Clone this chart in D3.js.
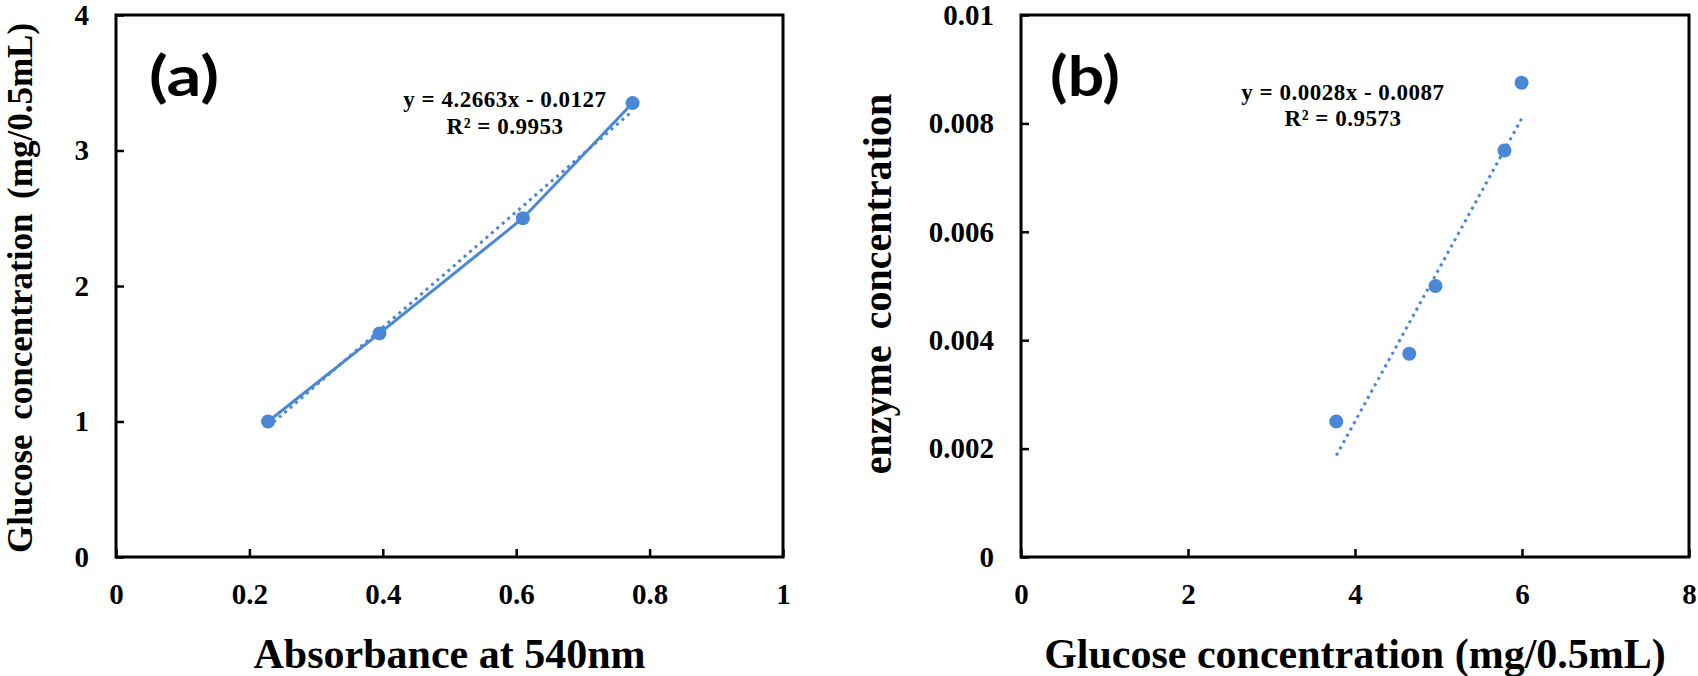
<!DOCTYPE html>
<html>
<head>
<meta charset="utf-8">
<script src="https://cdn.jsdelivr.net/npm/d3@7"></script>
<style>
  html, body { margin: 0; padding: 0; background: #fff; }
  svg { display: block; }
  .serif { font-family: "Liberation Serif", "Times New Roman", serif; font-weight: bold; fill: #000; }
</style>
</head>
<body>
<svg id="chart" width="1698" height="676"></svg>
<script>
// ---------- Panel (a) data ----------
const absorbance = [0.228, 0.395, 0.61, 0.7745];
const glucoseA = [1.0, 1.65, 2.5, 3.35];
const xTicksA = [0, 0.2, 0.4, 0.6, 0.8, 1];
const yTicksA = [0, 1, 2, 3, 4];
const xTickLabelsA = ["0", "0.2", "0.4", "0.6", "0.8", "1"];
const yTickLabelsA = ["0", "1", "2", "3", "4"];
const trendA = [4.2663, -0.0127];   // slope, intercept
const eqA = ["y = 4.2663x - 0.0127", "R\u00B2 = 0.9953"];

// ---------- Panel (b) data ----------
const glucoseB = [3.776, 4.65, 4.964, 5.79, 5.995];
const enzyme = [0.0025, 0.00375, 0.005, 0.0075, 0.00875];
const xTicksB = [0, 2, 4, 6, 8];
const yTicksB = [0, 0.002, 0.004, 0.006, 0.008, 0.01];
const xTickLabelsB = ["0", "2", "4", "6", "8"];
const yTickLabelsB = ["0", "0.002", "0.004", "0.006", "0.008", "0.01"];
const trendB = [0.0028, -0.0087];
const eqB = ["y = 0.0028x - 0.0087", "R\u00B2 = 0.9573"];

const BLUE = "#4a88d6";
const svg = d3.select("#chart");

function panel(cfg) {
  const g = svg.append("g");
  const x = d3.scaleLinear().domain(cfg.xDomain).range([cfg.left, cfg.right]);
  const y = d3.scaleLinear().domain(cfg.yDomain).range([cfg.bottom, cfg.top]);

  // axes with inward ticks
  const xAxis = d3.axisBottom(x).tickValues(cfg.xTicks)
    .tickFormat((d, i) => cfg.xLabels[i]).tickSizeInner(-8).tickSizeOuter(0).tickPadding(26);
  const yAxis = d3.axisLeft(y).tickValues(cfg.yTicks)
    .tickFormat((d, i) => cfg.yLabels[i]).tickSizeInner(-8).tickSizeOuter(0).tickPadding(27);

  const gx = g.append("g").attr("transform", `translate(0,${cfg.bottom})`).call(xAxis);
  const gy = g.append("g").attr("transform", `translate(${cfg.left},0)`).call(yAxis);
  [gx, gy].forEach(a => {
    a.select(".domain").remove();
    a.selectAll(".tick line").attr("stroke", "#000").attr("stroke-width", 2.5);
    a.selectAll(".tick text").attr("class", "serif").attr("font-size", 29).attr("fill", "#000");
  });

  // frame
  g.append("rect")
    .attr("x", cfg.left).attr("y", cfg.top)
    .attr("width", cfg.right - cfg.left).attr("height", cfg.bottom - cfg.top)
    .attr("fill", "none").attr("stroke", "#000").attr("stroke-width", 3);

  const pts = cfg.xs.map((v, i) => [v, cfg.ys[i]]);

  // trendline (dotted)
  const x0 = d3.min(cfg.xs), x1 = d3.max(cfg.xs);
  g.append("line")
    .attr("x1", x(x0)).attr("y1", y(cfg.trend[0] * x0 + cfg.trend[1]))
    .attr("x2", x(x1)).attr("y2", y(cfg.trend[0] * x1 + cfg.trend[1]))
    .attr("stroke", BLUE).attr("stroke-width", 3)
    .attr("stroke-dasharray", "3 4.2");

  if (cfg.connect) {
    g.append("path")
      .attr("d", d3.line().x(d => x(d[0])).y(d => y(d[1]))(pts))
      .attr("fill", "none").attr("stroke", BLUE).attr("stroke-width", 3);
  }

  g.selectAll("circle.pt").data(pts).enter().append("circle")
    .attr("class", "pt")
    .attr("cx", d => x(d[0])).attr("cy", d => y(d[1]))
    .attr("r", 7).attr("fill", BLUE);

  // equation
  cfg.eq.forEach((t, i) => {
    g.append("text").attr("class", "serif")
      .attr("x", cfg.eqPos[0]).attr("y", cfg.eqPos[1] + i * 26.5)
      .attr("text-anchor", "middle").attr("font-size", 23)
      .attr("letter-spacing", "0.5px")
      .text(t);
  });

  // panel tag
  g.append("text")
    .attr("x", cfg.tagPos[0]).attr("y", cfg.tagPos[1])
    .attr("font-family", "Lato, 'Open Sans', sans-serif").attr("font-weight", "bold")
    .attr("font-size", 56).attr("fill", "#000")
    .attr("textLength", 70).attr("lengthAdjust", "spacingAndGlyphs")
    .text(cfg.tag);

  // axis titles
  g.append("text").attr("class", "serif")
    .attr("x", (cfg.left + cfg.right) / 2).attr("y", 668)
    .attr("text-anchor", "middle").attr("font-size", 42)
    .text(cfg.xTitle);

  g.append("text").attr("class", "serif")
    .attr("transform", `translate(${cfg.yTitleX},${cfg.yTitleY}) rotate(-90)`)
    .attr("text-anchor", "middle").attr("font-size", cfg.yTitleSize)
    .attr("word-spacing", "6px")
    .text(cfg.yTitle);
}

panel({
  left: 116, right: 783, top: 15, bottom: 557,
  xDomain: [0, 1], yDomain: [0, 4],
  xTicks: xTicksA, yTicks: yTicksA, xLabels: xTickLabelsA, yLabels: yTickLabelsA,
  xs: absorbance, ys: glucoseA, trend: trendA, connect: true,
  eq: eqA, eqPos: [505, 107],
  tag: "(a)", tagPos: [149, 96],
  xTitle: "Absorbance at 540nm",
  yTitle: "Glucose concentration (mg/0.5mL)", yTitleX: 32, yTitleY: 288, yTitleSize: 35
});

panel({
  left: 1021, right: 1689, top: 15, bottom: 557,
  xDomain: [0, 8], yDomain: [0, 0.01],
  xTicks: xTicksB, yTicks: yTicksB, xLabels: xTickLabelsB, yLabels: yTickLabelsB,
  xs: glucoseB, ys: enzyme, trend: trendB, connect: false,
  eq: eqB, eqPos: [1343, 99.5],
  tag: "(b)", tagPos: [1050, 96],
  xTitle: "Glucose concentration (mg/0.5mL)",
  yTitle: "enzyme concentration", yTitleX: 891, yTitleY: 284, yTitleSize: 40
});
</script>
</body>
</html>
